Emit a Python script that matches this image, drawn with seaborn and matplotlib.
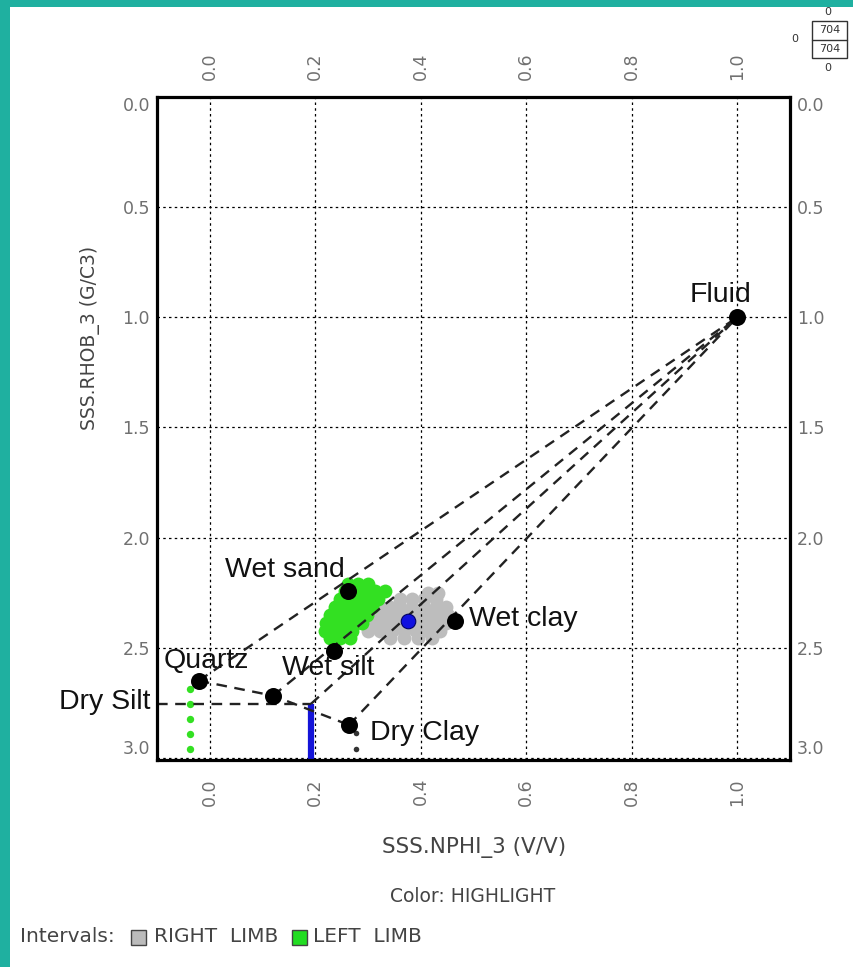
import matplotlib
matplotlib.use("Agg")
import matplotlib.pyplot as plt
import seaborn as sns
import pandas as pd
from matplotlib.patches import Rectangle
from matplotlib.lines import Line2D

sns.set_theme(style="white")
plt.rcParams['font.family'] = ['DejaVu Sans']

# ---------------- data ----------------
end_names = ["Fluid", "Quartz", "Dry Silt", "Dry Clay", "Wet sand", "Wet silt", "Wet clay"]
end_nphi = [1.0, -0.021, 0.120, 0.264, 0.263, 0.235, 0.464]
end_rhob = [1.0, 2.650, 2.718, 2.851, 2.241, 2.514, 2.377]

highlight_nphi = [0.376]
highlight_rhob = [2.380]

cutoff_nphi = [0.192, 0.192]
cutoff_rhob = [2.755, 3.02]

left_limb_nphi = [0.262, 0.281, 0.300,
                  0.256, 0.275, 0.294, 0.313, 0.332,
                  0.247, 0.266, 0.285, 0.304, 0.319,
                  0.237, 0.256, 0.275, 0.294, 0.307,
                  0.228, 0.247, 0.266, 0.285, 0.298,
                  0.220, 0.239, 0.258, 0.277, 0.288,
                  0.218, 0.235, 0.254, 0.269,
                  0.228, 0.247, 0.266]
left_limb_rhob = [2.209, 2.209, 2.209,
                  2.241, 2.241, 2.241, 2.241, 2.241,
                  2.277, 2.277, 2.277, 2.277, 2.277,
                  2.314, 2.314, 2.314, 2.314, 2.314,
                  2.350, 2.350, 2.350, 2.350, 2.350,
                  2.386, 2.386, 2.386, 2.386, 2.386,
                  2.423, 2.423, 2.423, 2.423,
                  2.455, 2.455, 2.455]

right_limb_nphi = [0.414, 0.433,
                   0.361, 0.383, 0.406, 0.429,
                   0.323, 0.342, 0.361, 0.383, 0.406, 0.429, 0.448,
                   0.304, 0.323, 0.342, 0.364, 0.387, 0.410, 0.433, 0.452,
                   0.296, 0.315, 0.338, 0.361, 0.383, 0.406, 0.429, 0.448,
                   0.300, 0.323, 0.345, 0.368, 0.391, 0.414, 0.436,
                   0.342, 0.368, 0.395, 0.421]
right_limb_rhob = [2.250, 2.250,
                   2.277, 2.277, 2.277, 2.277,
                   2.314, 2.314, 2.314, 2.314, 2.314, 2.314, 2.314,
                   2.350, 2.350, 2.350, 2.350, 2.350, 2.350, 2.350, 2.350,
                   2.386, 2.386, 2.386, 2.386, 2.386, 2.386, 2.386, 2.386,
                   2.423, 2.423, 2.423, 2.423, 2.423, 2.423, 2.423,
                   2.455, 2.455, 2.455, 2.455]

green_col_nphi = [-0.037, -0.037, -0.037, -0.037, -0.037]
green_col_rhob = [2.686, 2.755, 2.823, 2.890, 2.960]

dark_nphi = [0.278, 0.278]
dark_rhob = [2.889, 2.959]

x_ticks = [0.0, 0.2, 0.4, 0.6, 0.8, 1.0]
y_ticks = [0.0, 0.5, 1.0, 1.5, 2.0, 2.5, 3.0]

# ---------------- figure ----------------
W, H = 854, 967
fig = plt.figure(figsize=(W / 100, H / 100), dpi=100)
fig.patch.set_facecolor("white")

def fx(px):
    return px / W

def fy(py):
    return 1 - py / H

ax = fig.add_axes([fx(157), fy(760), fx(790) - fx(157), fy(97) - fy(760)])
ax.set_xlim(-0.1, 1.1)
ax.set_ylim(3.01, 0.0)

ends = pd.DataFrame({"name": end_names, "nphi": end_nphi, "rhob": end_rhob})
pt = dict(zip(end_names, zip(end_nphi, end_rhob)))

# clusters
sns.scatterplot(x=right_limb_nphi, y=right_limb_rhob, color="#bdbdbd", s=100,
                linewidth=0, ax=ax, zorder=2)
sns.scatterplot(x=left_limb_nphi, y=left_limb_rhob, color="#33e022", s=100,
                linewidth=0, ax=ax, zorder=3)
sns.scatterplot(x=green_col_nphi, y=green_col_rhob, color="#33e022", s=28,
                linewidth=0, ax=ax, zorder=3)
sns.scatterplot(x=dark_nphi, y=dark_rhob, color="#333333", s=16,
                linewidth=0, ax=ax, zorder=3)

# cutoff bar
ax.plot(cutoff_nphi, cutoff_rhob, color="#1414d8", lw=4.5, zorder=4,
        solid_capstyle="butt", clip_on=True)

dash = (0, (4.5, 3.2))
lkw = dict(color="#222222", lw=1.7, linestyle=dash, zorder=5)
fl = pt["Fluid"]
for nm in ["Quartz", "Dry Silt", "Dry Clay"]:
    p = pt[nm]
    ax.plot([p[0], fl[0]], [p[1], fl[1]], **lkw)
ax.plot([cutoff_nphi[0], fl[0]], [cutoff_rhob[0], fl[1]], **lkw)
ax.plot([pt["Quartz"][0], pt["Dry Silt"][0], pt["Dry Clay"][0]],
        [pt["Quartz"][1], pt["Dry Silt"][1], pt["Dry Clay"][1]], **lkw)
ax.plot([-0.1, cutoff_nphi[0]], [cutoff_rhob[0], cutoff_rhob[0]], **lkw)

# endpoints
sns.scatterplot(data=ends, x="nphi", y="rhob", color="black", s=150,
                linewidth=0, ax=ax, zorder=6)
sns.scatterplot(x=highlight_nphi, y=highlight_rhob, color="#1010e0", s=110,
                edgecolor="#000066", linewidth=0.8, ax=ax, zorder=6)

# labels on endpoints
lab_font = dict(family=["Liberation Sans", "DejaVu Sans"], fontsize=20.5,
                color="#111111", ha="center", va="baseline", zorder=7)
lab_pos = {"Fluid": (0.969, 0.930), "Wet sand": (0.142, 2.179),
           "Wet clay": (0.594, 2.401), "Quartz": (-0.007, 2.592),
           "Wet silt": (0.224, 2.624), "Dry Silt": (-0.200, 2.778),
           "Dry Clay": (0.408, 2.919)}
for nm, (lx, ly) in lab_pos.items():
    ax.text(lx, ly, nm, clip_on=False, **lab_font)

# grid, ticks, frame
ax.set_xticks(x_ticks)
ax.set_yticks(y_ticks)
ax.grid(True, color="black", linestyle=(0, (2, 2.6)), linewidth=0.9)
ax.set_axisbelow(False)
for gl in ax.get_xgridlines() + ax.get_ygridlines():
    gl.set_zorder(1)
ax.set_xticklabels([f"{t:.1f}" for t in x_ticks])
ax.set_yticklabels([f"{t:.1f}" for t in y_ticks])
tick_col = "#707070"
ax.tick_params(axis="x", length=0, pad=13, labelsize=12.5, labelcolor=tick_col,
               labelrotation=90)
ax.tick_params(axis="y", length=0, pad=5, labelsize=12.5, labelcolor=tick_col)
ax.set_xlabel("")
ax.set_ylabel("")

top = ax.secondary_xaxis("top")
top.set_xticks(x_ticks)
top.set_xticklabels([f"{t:.1f}" for t in x_ticks])
top.tick_params(length=0, pad=12, labelsize=12.5, labelcolor=tick_col,
                labelrotation=90)
right = ax.secondary_yaxis("right")
right.set_yticks(y_ticks)
right.set_yticklabels([f"{t:.1f}" for t in y_ticks])
right.tick_params(length=0, pad=5, labelsize=12.5, labelcolor=tick_col)
for sa in (top, right):
    for sp in sa.spines.values():
        sp.set_visible(False)

# first / last y labels sit inside the frame as in the reference
for labs in (ax.get_yticklabels(), right.get_yticklabels()):
    labs[0].set_va("top")
    labs[-1].set_va("bottom")

for sp in ax.spines.values():
    sp.set_visible(True)
    sp.set_color("black")
    sp.set_linewidth(2.3)
    sp.set_zorder(8)

# axis titles and footer
txt_col = "#444444"
fig.text(fx(90), fy(338), "SSS.RHOB_3 (G/C3)", rotation=90, ha="center",
         va="center", fontsize=13.5, color=txt_col)
fig.text(fx(474), fy(848), "SSS.NPHI_3 (V/V)", ha="center", va="center",
         fontsize=15.5, color=txt_col)
fig.text(fx(473), fy(897), "Color: HIGHLIGHT", ha="center", va="center",
         fontsize=13.5, color=txt_col)
fig.text(fx(20), fy(937), "Intervals:", ha="left", va="center",
         fontsize=14.5, color=txt_col)
fig.patches.append(Rectangle((fx(131), fy(945)), fx(15), fy(930) - fy(945),
                             transform=fig.transFigure, facecolor="#bbbbbb",
                             edgecolor="#444444", lw=1))
fig.text(fx(154), fy(937), "RIGHT  LIMB", ha="left", va="center",
         fontsize=14.5, color=txt_col)
fig.patches.append(Rectangle((fx(292), fy(945)), fx(15), fy(930) - fy(945),
                             transform=fig.transFigure, facecolor="#22dd22",
                             edgecolor="#444444", lw=1))
fig.text(fx(313), fy(937), "LEFT  LIMB", ha="left", va="center",
         fontsize=14.5, color=txt_col)

# top-right counter box
fig.patches.append(Rectangle((fx(812), fy(58)), fx(35), fy(21) - fy(58),
                             transform=fig.transFigure, facecolor="white",
                             edgecolor="#333333", lw=1))
fig.lines.append(Line2D([fx(812), fx(847)], [fy(39.5), fy(39.5)],
                        transform=fig.transFigure, color="#333333", lw=1))
small = dict(ha="center", va="center", color="#333333", fontsize=8)
fig.text(fx(829.5), fy(30), "704", **small)
fig.text(fx(829.5), fy(49), "704", **small)
fig.text(fx(828), fy(12), "0", **small)
fig.text(fx(828), fy(68), "0", **small)
fig.text(fx(795), fy(39), "0", **small)

# teal border
fig.patches.append(Rectangle((0, 0), fx(10), 1, transform=fig.transFigure,
                             facecolor="#1fb0a0", edgecolor="none"))
fig.patches.append(Rectangle((0, fy(7)), 1, 1 - fy(7), transform=fig.transFigure,
                             facecolor="#1fb0a0", edgecolor="none"))

fig.savefig("out.png", dpi=100)
